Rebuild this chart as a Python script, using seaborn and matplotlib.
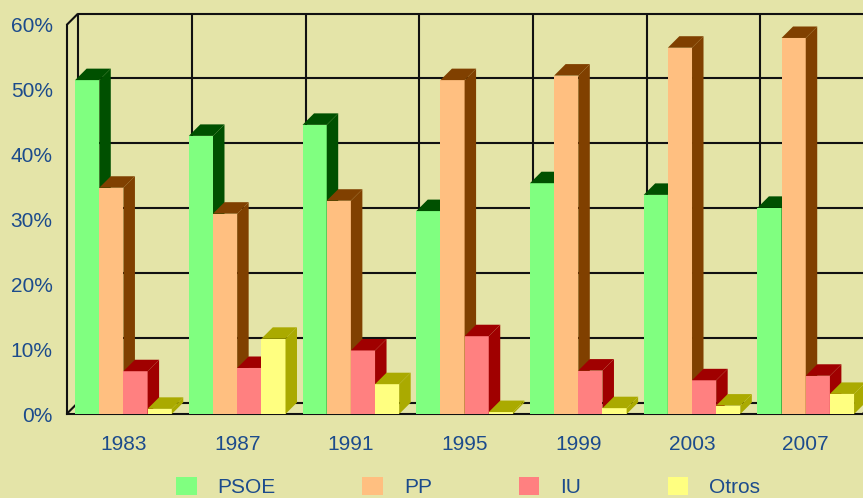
"""
Resultados electorales 1983-2007 - barras con efecto 3D
"""

import pandas as pd
import matplotlib
matplotlib.use("Agg")
import matplotlib.pyplot as plt
from matplotlib.patches import Polygon
from matplotlib.ticker import FuncFormatter
import seaborn as sns

# Datos
ANIOS = ["1983", "1987", "1991", "1995", "1999", "2003", "2007"]
PARTIDOS = ["PSOE", "PP", "IU", "Otros"]
PSOE = [51.5, 42.9, 44.6, 31.3, 35.6, 33.8, 31.8]
PP = [34.9, 30.9, 32.9, 51.5, 52.2, 56.5, 58.0]
IU = [6.6, 7.1, 9.8, 12.0, 6.7, 5.2, 5.9]
OTROS = [0.8, 11.6, 4.6, 0.3, 0.9, 1.3, 3.1]
Y_TICKS = [0, 10, 20, 30, 40, 50, 60]

# Estilo
COLORES_FRENTE = ["#80FF80", "#FFBF80", "#FF8080", "#FFFF80"]
COLORES_LADO = ["#005000", "#804000", "#A00000", "#AAAA00"]
FONDO = "#E4E4A8"
AZUL = "#1C4B8C"
LINEA = "#111111"
PROF_X = 0.101   # profundidad en unidades de categoria
PROF_Y = 1.77    # profundidad en puntos porcentuales
FUENTE = 15


def construir_tabla():
    """Pasa las listas a formato largo"""
    filas = []
    for valores, partido in zip([PSOE, PP, IU, OTROS], PARTIDOS):
        for anio, v in zip(ANIOS, valores):
            filas.append({"anio": anio, "partido": partido, "voto": v})
    return pd.DataFrame(filas)


def dibujar_pared(ax):
    """Pared del fondo, suelo y diagonales"""
    x0, x1 = -0.5, len(ANIOS) - 0.5
    kw = dict(color=LINEA, lw=1.5, clip_on=False, zorder=1, solid_capstyle="butt")
    for y in Y_TICKS:
        ax.plot([x0 + PROF_X, x1 + 1], [y + PROF_Y] * 2, **kw)
    for i in range(len(ANIOS)):
        x = x0 + i + PROF_X
        ax.plot([x, x], [PROF_Y, Y_TICKS[-1] + PROF_Y], **kw)
    ax.plot([x0, x0 + PROF_X], [0, PROF_Y], **kw)
    ax.plot([x0, x0 + PROF_X], [Y_TICKS[-1], Y_TICKS[-1] + PROF_Y], **kw)
    ax.plot([x1, x1 + PROF_X], [0, PROF_Y], **kw)


def agregar_profundidad(ax):
    """Caras lateral y superior de cada barra"""
    for k, cont in enumerate(ax.containers):
        for barra in cont:
            x, w, h = barra.get_x(), barra.get_width(), barra.get_height()
            z = 3 + k
            barra.set_zorder(z)
            lado = Polygon([(x + w, 0), (x + w + PROF_X, PROF_Y),
                            (x + w + PROF_X, h + PROF_Y), (x + w, h)],
                           closed=True, fc=COLORES_LADO[k], ec="none",
                           zorder=z, clip_on=False)
            techo = Polygon([(x, h), (x + PROF_X, h + PROF_Y),
                             (x + w + PROF_X, h + PROF_Y), (x + w, h)],
                            closed=True, fc=COLORES_LADO[k], ec="none",
                            zorder=z, clip_on=False)
            ax.add_patch(lado)
            ax.add_patch(techo)


def main():
    sns.set_style("white")
    plt.rcParams["font.family"] = ["Liberation Sans", "DejaVu Sans"]

    df = construir_tabla()

    fig = plt.figure(figsize=(8.63, 4.98), dpi=100, facecolor=FONDO)
    ax = fig.add_axes([66.6 / 863, 84 / 498, 796 / 863, 389 / 498])
    ax.set_facecolor(FONDO)

    sns.barplot(data=df, x="anio", y="voto", hue="partido",
                hue_order=PARTIDOS, palette=COLORES_FRENTE, saturation=1,
                width=0.85, linewidth=0, edgecolor="none", ax=ax)

    ax.set_xlim(-0.5, len(ANIOS) - 0.5)
    ax.set_ylim(0, 60)
    ax.set_yticks(Y_TICKS)
    ax.yaxis.set_major_formatter(FuncFormatter(lambda v, p: f"{v:.0f}%"))
    ax.set_xlabel("")
    ax.set_ylabel("")
    ax.grid(False)

    for lado in ["top", "right"]:
        ax.spines[lado].set_visible(False)
    for lado in ["left", "bottom"]:
        ax.spines[lado].set_color(LINEA)
        ax.spines[lado].set_linewidth(1.5)

    ax.tick_params(axis="y", length=0, pad=10, labelsize=FUENTE, labelcolor=AZUL)
    ax.tick_params(axis="x", length=0, pad=15, labelsize=FUENTE, labelcolor=AZUL)

    dibujar_pared(ax)
    agregar_profundidad(ax)

    sns.move_legend(ax, "center left", bbox_to_anchor=(176 / 863, 11 / 498),
                    bbox_transform=fig.transFigure, ncol=4, frameon=False,
                    title=None, fontsize=FUENTE, borderpad=0, borderaxespad=0,
                    handlelength=1.0, handleheight=1.0, handletextpad=1.0,
                    columnspacing=4.15)
    for txt in ax.get_legend().get_texts():
        txt.set_color(AZUL)

    fig.savefig("out.png", dpi=100, facecolor=FONDO)
    plt.close(fig)


if __name__ == "__main__":
    main()
